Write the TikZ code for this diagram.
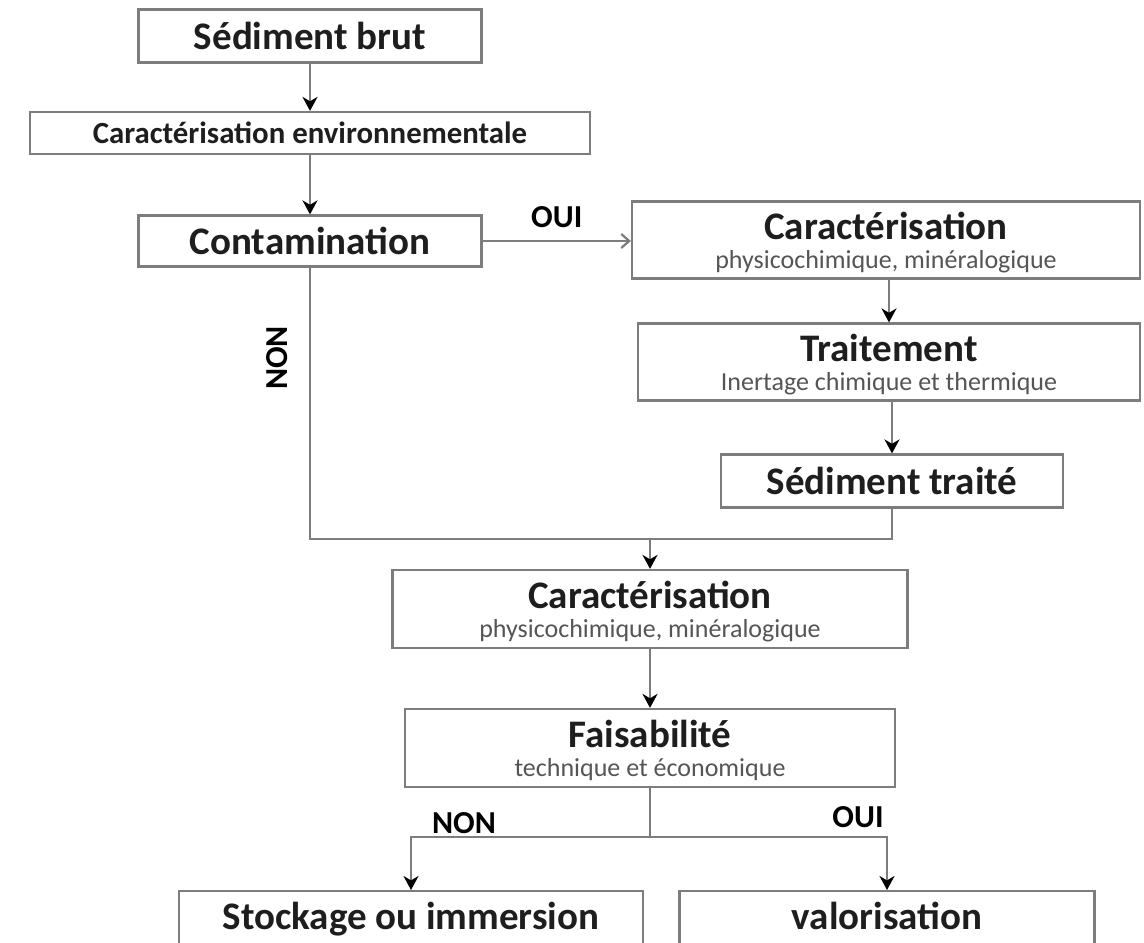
\documentclass[tikz,border=0pt]{standalone}
\usepackage{fontspec}
\setmainfont{Carlito}
\usepackage{xcolor}
\usepackage{tikz}
\usetikzlibrary{
  arrows.meta,
  positioning,
  calc
}
\definecolor{boxgray}{RGB}{125,125,125}
\definecolor{txtdark}{RGB}{30,30,30}
\definecolor{subgray}{RGB}{85,85,85}
\newcommand{\subtxt}[1]{{\fontsize{13}{15}\selectfont\mdseries\color{subgray}#1}}
\newcommand{\ttlstrut}{\rule{0pt}{16pt}}

\begin{document}
\begin{tikzpicture}[x=0.5pt, y=-0.5pt,
    fbox/.style={
        draw=boxgray, line width=1.1pt, text=txtdark,
        align=center, inner sep=1pt
    },
  ttl/.style={font=\fontsize{19.5}{17}\selectfont\bfseries},
  lbl/.style={font=\fontsize{16}{18}\selectfont\bfseries, text=black},
  line/.style={draw=boxgray, line width=1.1pt},
  link/.style={line, -{Stealth[length=7pt, width=7.5pt, inset=2.2pt, color=black]}}
]
\clip (0,0) rectangle (1144,942);
\fill[white] (0,0) rectangle (1144,942);

\node[fbox, ttl, minimum width=171.5pt, minimum height=26.5pt] (brut) at (310,36) {Sédiment brut};
\node[fbox, font=\fontsize{15.4}{17}\selectfont\bfseries,
      minimum width=280pt, minimum height=21pt] (env) at (310,133) {Caractérisation environnementale};
\node[fbox, ttl, minimum width=171.5pt, minimum height=25.5pt] (contam) at (310,241) {Contamination};

\node[fbox, ttl, minimum width=254pt, minimum height=38.5pt] (carA) at (886,240) {%
  \ttlstrut Caractérisation\\[-2.5pt] \subtxt{physicochimique, minéralogique}};
\node[fbox, ttl, minimum width=251pt, minimum height=38.5pt] (trait) at (889,362) {%
  \ttlstrut Traitement\\[-2.5pt] \subtxt{Inertage chimique et thermique}};
\node[fbox, ttl, minimum width=171pt, minimum height=26.5pt] (traite) at (892,481) {Sédiment traité};

\node[fbox, ttl, minimum width=257.5pt, minimum height=39pt] (carB) at (650,609) {%
  \ttlstrut Caractérisation\\[-2.5pt] \subtxt{physicochimique, minéralogique}};
\node[fbox, ttl, minimum width=245pt, minimum height=39pt] (faisab) at (650,748) {%
  \ttlstrut Faisabilité\\[-2.5pt] \subtxt{technique et économique}};

\node[fbox, ttl, anchor=north, minimum width=232pt, inner ysep=4pt,
      text height=15pt, text depth=60pt] (stock) at (411,890) {Stockage ou immersion};
\node[fbox, ttl, anchor=north, minimum width=207.5pt, inner ysep=4pt,
      text height=15pt, text depth=60pt] (valo) at (887,890) {valorisation};

\draw[link] (brut) -- (env);
\draw[link] (env) -- (contam);
\draw[line, -{Straight Barb[length=4pt, width=7pt]}] (contam.east) -- (contam.east -| carA.west)
  node[lbl, midway, above=3pt] (oui1) {OUI};
\draw[link] (carA.south -| trait) -- (trait);
\draw[link] (trait.south -| traite) -- (traite);

\coordinate (join) at (650,539);
\draw[line] (contam.south) |- (join) -| (traite.south);
\node[lbl, rotate=90] (non1) at (277,358) {NON};
\draw[link] (join) -- (carB);
\draw[link] (carB) -- (faisab);

\coordinate (split) at (650,837);
\draw[line] (faisab) -- (split);
\draw[link] (split) -| (stock.north);
\draw[link] (split) -| (valo.north);
\node[lbl] (non2) at (464,823) {NON};
\node[lbl] (oui2) at (858,817) {OUI};

\end{tikzpicture}
\end{document}
